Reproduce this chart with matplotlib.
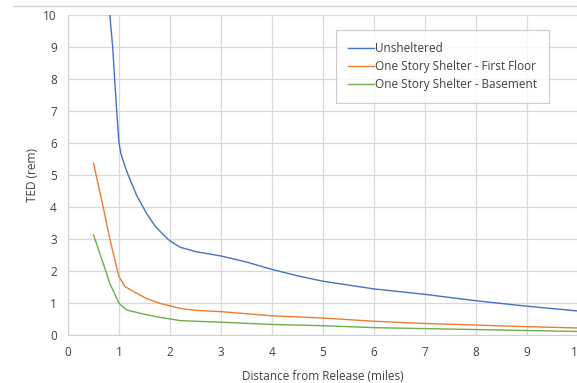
import matplotlib.pyplot as plt
from matplotlib.lines import Line2D

plt.rcParams['font.family'] = ['Open Sans', 'DejaVu Sans']

# distance (miles) / TED (rem)
unsh_x = [0.78, 0.82, 0.876, 0.915, 0.955, 1.0, 1.04, 1.1, 1.18, 1.35, 1.54, 1.7, 1.87, 2.0, 2.2, 2.52, 3.0, 3.5, 4.0, 4.5, 5.0, 6.0, 7.0, 8.0, 9.0, 10.0]
unsh_y = [11.5, 10.0, 9.0, 8.0, 7.0, 6.0, 5.65, 5.35, 5.0, 4.35, 3.80, 3.42, 3.13, 2.94, 2.74, 2.6, 2.47, 2.28, 2.05, 1.85, 1.68, 1.44, 1.27, 1.07, 0.9, 0.75]

first_x = [0.5, 0.69, 0.82, 0.92, 1.0, 1.12, 1.35, 1.54, 1.8, 2.2, 2.5, 3.0, 4.0, 5.0, 6.0, 7.0, 8.0, 9.0, 10.0]
first_y = [5.37, 4.0, 3.0, 2.34, 1.82, 1.51, 1.30, 1.14, 0.99, 0.83, 0.77, 0.73, 0.6, 0.53, 0.43, 0.36, 0.31, 0.26, 0.22]

base_x = [0.5, 0.69, 0.82, 1.0, 1.15, 1.41, 1.74, 2.2, 2.5, 3.0, 4.0, 5.0, 6.0, 7.0, 8.0, 9.0, 10.0]
base_y = [3.13, 2.24, 1.61, 0.99, 0.78, 0.68, 0.57, 0.45, 0.43, 0.40, 0.33, 0.29, 0.23, 0.2, 0.17, 0.14, 0.11]

fig = plt.figure(figsize=(5.77, 3.83), dpi=100)
ax = fig.add_axes([68 / 577, 48 / 383, 510 / 577, 320 / 383])

ax.plot(unsh_x, unsh_y, color='#4472C4', lw=1.0, label='Unsheltered')
ax.plot(first_x, first_y, color='#ED7D31', lw=1.0, label='One Story Shelter - First Floor')
ax.plot(base_x, base_y, color='#70AD47', lw=1.0, label='One Story Shelter - Basement')

ax.set_xlim(0, 10)
ax.set_ylim(0, 10)
ax.set_xticks(range(0, 11))
ax.set_yticks(range(0, 11))
ax.grid(True, color='#d9d9d9', lw=0.9)
ax.set_axisbelow(True)
for s in ['top', 'right']:
    ax.spines[s].set_visible(False)
for s in ['left', 'bottom']:
    ax.spines[s].set_color('#d0d0d0')
ax.tick_params(length=0, labelsize=8.5, colors='#404040', pad=8)

ax.set_xlabel('Distance from Release (miles)', fontsize=8.5, color='#404040', labelpad=8)
ax.set_ylabel('TED (rem)', fontsize=8.5, color='#404040', labelpad=3)

leg = ax.legend(loc='upper left', bbox_to_anchor=(0.525, 0.953), borderaxespad=0,
                fontsize=8.5, frameon=True, fancybox=False, edgecolor='#c0c0c0',
                handlelength=2.2, borderpad=1.0, labelspacing=0.42, handletextpad=0.1)
leg.get_frame().set_linewidth(0.8)
for t in leg.get_texts():
    t.set_color('#404040')

fig.add_artist(Line2D([14 / 577, 1], [1 - 6 / 383, 1 - 6 / 383], color='#d0d0d0', lw=1))

fig.savefig('out.png', dpi=100)
